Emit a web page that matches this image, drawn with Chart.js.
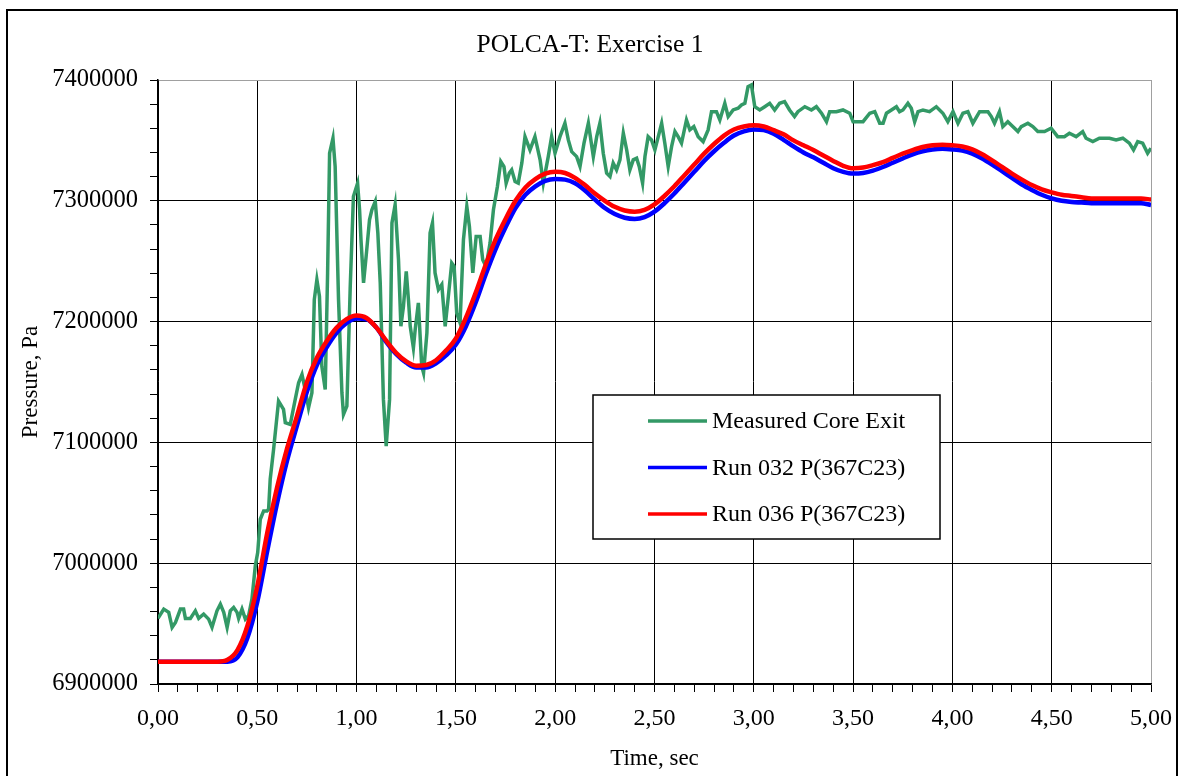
<!DOCTYPE html>
<html>
<head>
<meta charset="utf-8">
<script src="https://cdn.jsdelivr.net/npm/chart.js@4.4.0/dist/chart.umd.min.js"></script>
<style>
html, body { margin: 0; padding: 0; background: #fff; }
#wrap { width: 1180px; height: 776px; position: relative; }
</style>
</head>
<body>
<div id="wrap"><canvas id="polcaChart"></canvas></div>
<script>
// measured core exit pressure (irregular time samples)
const measTime = [
  0.000, 0.029, 0.054, 0.071, 0.088, 0.113, 0.129, 0.138, 0.163, 0.188, 0.205, 0.230, 0.255, 0.272, 0.297, 0.314,
  0.331, 0.348, 0.364, 0.381, 0.398, 0.406, 0.423, 0.440, 0.456, 0.473, 0.490, 0.502, 0.515, 0.532, 0.549, 0.557,
  0.565, 0.582, 0.607, 0.632, 0.641, 0.666, 0.691, 0.708, 0.725, 0.741, 0.758, 0.775, 0.787, 0.800, 0.813, 0.825,
  0.842, 0.854, 0.864, 0.881, 0.892, 0.909, 0.926, 0.934, 0.951, 0.968, 0.984, 1.005, 1.015, 1.022, 1.035, 1.048,
  1.065, 1.077, 1.094, 1.107, 1.119, 1.135, 1.149, 1.166, 1.178, 1.194, 1.211, 1.223, 1.236, 1.250, 1.261, 1.270,
  1.286, 1.295, 1.311, 1.328, 1.337, 1.354, 1.370, 1.382, 1.395, 1.412, 1.429, 1.446, 1.462, 1.479, 1.491, 1.504,
  1.521, 1.538, 1.555, 1.568, 1.585, 1.602, 1.622, 1.635, 1.652, 1.672, 1.689, 1.709, 1.726, 1.742, 1.753, 1.769,
  1.781, 1.798, 1.814, 1.832, 1.848, 1.873, 1.898, 1.924, 1.940, 1.965, 1.982, 1.999, 2.024, 2.049, 2.066, 2.083,
  2.108, 2.125, 2.145, 2.167, 2.192, 2.209, 2.225, 2.242, 2.259, 2.276, 2.292, 2.309, 2.326, 2.343, 2.360, 2.376,
  2.393, 2.410, 2.423, 2.440, 2.452, 2.468, 2.485, 2.502, 2.519, 2.536, 2.552, 2.569, 2.586, 2.603, 2.619, 2.636,
  2.661, 2.678, 2.698, 2.720, 2.745, 2.770, 2.787, 2.812, 2.829, 2.854, 2.871, 2.896, 2.921, 2.938, 2.955, 2.971,
  2.988, 3.005, 3.030, 3.055, 3.080, 3.105, 3.130, 3.155, 3.180, 3.205, 3.222, 3.257, 3.290, 3.315, 3.341, 3.366,
  3.382, 3.416, 3.449, 3.483, 3.500, 3.550, 3.584, 3.609, 3.634, 3.651, 3.668, 3.693, 3.718, 3.734, 3.751, 3.776,
  3.793, 3.810, 3.827, 3.852, 3.885, 3.919, 3.952, 3.977, 4.003, 4.028, 4.053, 4.078, 4.103, 4.137, 4.179, 4.196,
  4.212, 4.237, 4.254, 4.279, 4.296, 4.330, 4.347, 4.380, 4.405, 4.430, 4.464, 4.497, 4.530, 4.564, 4.589, 4.623,
  4.656, 4.673, 4.707, 4.740, 4.791, 4.824, 4.858, 4.891, 4.912, 4.933, 4.958, 4.983, 5.000
];
const measPressure = [
  6954300, 6962000, 6959300, 6946900, 6951000, 6962000, 6962000, 6954300, 6954300, 6960600, 6954300, 6957900, 6953700, 6946900, 6960600, 6966100,
  6959300, 6946900, 6960600, 6963400, 6959300, 6954300, 6962000, 6953700, 6956500, 6970300, 6997800, 7008800, 7036400, 7043300, 7043300, 7044700,
  7069500, 7094200, 7134200, 7127300, 7116300, 7114900, 7135600, 7149400, 7156200, 7143800, 7128700, 7141100, 7218200, 7234700, 7220900, 7163000,
  7143800, 7240300, 7339400, 7351800, 7328400, 7218200, 7141100, 7123200, 7130000, 7229200, 7303600, 7314600, 7292600, 7267800, 7232000, 7254000,
  7284300, 7292600, 7299400, 7273300, 7232000, 7135600, 7097000, 7135600, 7281600, 7296700, 7251200, 7196100, 7212700, 7241600, 7218200, 7196100,
  7178300, 7193400, 7215500, 7163100, 7157600, 7190700, 7273300, 7281600, 7240300, 7226500, 7230600, 7196100, 7220900, 7248500, 7245700, 7207200,
  7199000, 7267800, 7295300, 7278800, 7240300, 7270500, 7270500, 7251200, 7245700, 7265000, 7292600, 7311800, 7332500, 7328400, 7314600, 7322900,
  7325600, 7316000, 7314600, 7331200, 7353100, 7342100, 7353100, 7333900, 7314600, 7336600, 7353100, 7339400, 7353100, 7364200, 7350400, 7340700,
  7336600, 7328400, 7347700, 7364200, 7336600, 7353100, 7364200, 7339400, 7322900, 7320100, 7331200, 7325600, 7333900, 7356000, 7342100, 7325600,
  7333900, 7335300, 7328400, 7314600, 7336600, 7353100, 7350400, 7342100, 7353100, 7364200, 7347700, 7328400, 7344800, 7357300, 7353100, 7347700,
  7366900, 7358700, 7361400, 7353100, 7349000, 7358700, 7373800, 7373800, 7366900, 7380700, 7369700, 7375200, 7376600, 7379300, 7380700, 7394500,
  7395900, 7377900, 7375200, 7377900, 7380700, 7375200, 7380700, 7382100, 7375200, 7369700, 7373800, 7377900, 7375200, 7377900, 7372500, 7365500,
  7373800, 7373800, 7375200, 7372500, 7365500, 7365500, 7372500, 7373800, 7364200, 7364200, 7372500, 7375200, 7377900, 7373800, 7375200, 7380700,
  7376600, 7365500, 7373800, 7375200, 7373800, 7377900, 7372500, 7365500, 7373800, 7364200, 7372500, 7373800, 7364200, 7373800, 7373800, 7369700,
  7364200, 7373800, 7361400, 7365500, 7362800, 7357300, 7361400, 7364200, 7361400, 7357300, 7357300, 7360100, 7353100, 7353100, 7355900, 7353100,
  7357300, 7351800, 7349000, 7351800, 7351800, 7350400, 7351800, 7347700, 7342100, 7349000, 7347700, 7339400, 7343600
];

// calculated runs, every 0.05 s
const simTime = [
  0.00, 0.05, 0.10, 0.15, 0.20, 0.25, 0.30, 0.35, 0.40, 0.45, 0.50, 0.55, 0.60, 0.65, 0.70, 0.75, 0.80, 0.85, 0.90, 0.95,
  1.00, 1.05, 1.10, 1.15, 1.20, 1.25, 1.30, 1.35, 1.40, 1.45, 1.50, 1.55, 1.60, 1.65, 1.70, 1.75, 1.80, 1.85, 1.90, 1.95,
  2.00, 2.05, 2.10, 2.15, 2.20, 2.25, 2.30, 2.35, 2.40, 2.45, 2.50, 2.55, 2.60, 2.65, 2.70, 2.75, 2.80, 2.85, 2.90, 2.95,
  3.00, 3.05, 3.10, 3.15, 3.20, 3.25, 3.30, 3.35, 3.40, 3.45, 3.50, 3.55, 3.60, 3.65, 3.70, 3.75, 3.80, 3.85, 3.90, 3.95,
  4.00, 4.05, 4.10, 4.15, 4.20, 4.25, 4.30, 4.35, 4.40, 4.45, 4.50, 4.55, 4.60, 4.65, 4.70, 4.75, 4.80, 4.85, 4.90, 4.95,
  5.00
];
const run032 = [
  6918500, 6918500, 6918500, 6918500, 6918500, 6918500, 6918500, 6918500, 6922000, 6938000, 6968000, 7010000, 7050000, 7085000, 7114000, 7142000, 7164000, 7179000, 7191000, 7199000,
  7202500, 7202000, 7195000, 7183000, 7173000, 7166000, 7162000, 7162000, 7165500, 7172000, 7181000, 7196000, 7216000, 7239000, 7260000, 7278000, 7294000, 7305000, 7312000, 7316500,
  7318000, 7317500, 7314500, 7308500, 7301000, 7294000, 7289000, 7286000, 7285000, 7286500, 7291000, 7298000, 7306000, 7315000, 7324000, 7333000, 7341000, 7348000, 7354000, 7357500,
  7359000, 7358500, 7355500, 7350500, 7345000, 7340000, 7336000, 7331500, 7327000, 7324000, 7322500, 7323000, 7325000, 7328000, 7331500, 7335000, 7338500, 7341000, 7342500, 7343000,
  7342500, 7341500, 7339000, 7335000, 7330000, 7324500, 7319000, 7313500, 7309000, 7305000, 7302000, 7300000, 7299000, 7298500, 7298000, 7298000, 7298000, 7298000, 7298000, 7298000,
  7296500
];
const run036 = [
  6918500, 6918500, 6918500, 6918500, 6918500, 6918500, 6918500, 6920000, 6928000, 6948000, 6981000, 7025000, 7063000, 7095000, 7122000, 7150000, 7170000, 7184000, 7195000, 7202000,
  7205000, 7203000, 7195000, 7184000, 7174000, 7167000, 7163500, 7164000, 7168000, 7176000, 7186000, 7203000, 7224000, 7247000, 7268000, 7285000, 7300000, 7311000, 7318000, 7322500,
  7324000, 7323000, 7319000, 7313000, 7306000, 7300000, 7295000, 7292000, 7291000, 7292500, 7297000, 7304000, 7312000, 7321000, 7330000, 7339000, 7347000, 7354000, 7359000, 7361500,
  7362500, 7361500, 7358500, 7355000, 7350000, 7346000, 7342000, 7337500, 7333000, 7329000, 7327000, 7327500, 7329500, 7332000, 7335500, 7339000, 7342000, 7344500, 7346000, 7346500,
  7346000, 7345000, 7342500, 7338500, 7333500, 7328000, 7322500, 7317500, 7313000, 7309500, 7307000, 7305000, 7304000, 7303000, 7302000, 7302000, 7302000, 7302000, 7302000, 7302000,
  7301000
];

const seriesNames = ['Measured Core Exit', 'Run 032 P(367C23)', 'Run 036 P(367C23)'];
const seriesColors = ['#339966', '#0000ff', '#ff0000'];

const serif = 'Liberation Serif';

function isHalf(v) {
  return Math.abs(v * 2 - Math.round(v * 2)) < 1e-6;
}

// black frame round the whole picture
const frame = {
  id: 'frame',
  afterDraw(chart) {
    const c = chart.ctx;
    c.save();
    c.strokeStyle = '#000';
    c.lineWidth = 2;
    c.strokeRect(7, 10, 1170, 800);
    c.restore();
  }
};

// boxed legend inside the plot area
const boxLegend = {
  id: 'boxLegend',
  afterDatasetsDraw(chart) {
    const c = chart.ctx;
    c.save();
    c.fillStyle = '#fff';
    c.fillRect(593, 395, 347, 144);
    c.strokeStyle = '#000';
    c.lineWidth = 1.5;
    c.strokeRect(593, 395, 347, 144);
    c.font = '24px "' + serif + '"';
    c.textBaseline = 'middle';
    chart.data.datasets.forEach((ds, i) => {
      const y = 421 + i * 46.5;
      c.strokeStyle = ds.borderColor;
      c.lineWidth = 3.5;
      c.beginPath();
      c.moveTo(648, y);
      c.lineTo(707, y);
      c.stroke();
      c.fillStyle = '#000';
      c.fillText(ds.label, 712, y + 1);
    });
    c.restore();
  }
};

const ctx = document.getElementById('polcaChart');

new Chart(ctx, {
  type: 'line',
  data: {
    datasets: [{
      label: seriesNames[0],
      data: measTime.map((t, i) => ({x: t, y: measPressure[i]})),
      borderColor: seriesColors[0],
      borderWidth: 3.5,
      pointRadius: 0,
      tension: 0,
      order: 3
    }, {
      label: seriesNames[1],
      data: simTime.map((t, i) => ({x: t, y: run032[i]})),
      borderColor: seriesColors[1],
      borderWidth: 4.5,
      pointRadius: 0,
      cubicInterpolationMode: 'monotone',
      order: 2
    }, {
      label: seriesNames[2],
      data: simTime.map((t, i) => ({x: t, y: run036[i]})),
      borderColor: seriesColors[2],
      borderWidth: 4.5,
      pointRadius: 0,
      cubicInterpolationMode: 'monotone',
      order: 1
    }]
  },
  options: {
    responsive: true,
    maintainAspectRatio: false,
    animation: false,
    events: [],
    layout: { padding: 0 },
    plugins: {
      legend: { display: false },
      tooltip: { enabled: false },
      title: {
        display: true,
        text: 'POLCA-T: Exercise 1',
        color: '#000',
        font: { family: serif, size: 25.5, weight: 'normal' },
        padding: { top: 30, bottom: 19.4 }
      }
    },
    scales: {
      x: {
        type: 'linear',
        min: 0,
        max: 5,
        afterFit: (s) => { s.height = 92; s.paddingLeft = 0; s.paddingRight = 29; },
        ticks: {
          stepSize: 0.1,
          maxTicksLimit: 100,
          autoSkip: false,
          maxRotation: 0,
          color: '#000',
          padding: 12,
          font: { family: serif, size: 24 },
          callback: (v) => isHalf(v) ? v.toFixed(2).replace('.', ',') : ''
        },
        grid: {
          color: (c) => !isHalf(c.tick.value) ? 'rgba(0,0,0,0)' : (c.tick.value >= 5 ? '#a0a0a0' : '#000'),
          tickColor: '#000',
          tickLength: 8,
          lineWidth: 1
        },
        border: { color: '#000', width: 1.5 },
        title: {
          display: true,
          text: 'Time, sec',
          color: '#000',
          font: { family: serif, size: 23 },
          padding: { top: 0, bottom: 3 }
        }
      },
      y: {
        min: 6900000,
        max: 7400000,
        afterFit: (s) => { s.width = 158; },
        ticks: {
          stepSize: 20000,
          maxTicksLimit: 100,
          autoSkip: false,
          color: '#000',
          padding: 12,
          font: { family: serif, size: 24.5 },
          callback: (v) => v % 100000 === 0 ? String(v) : ''
        },
        grid: {
          color: (c) => c.tick.value % 100000 !== 0 ? 'rgba(0,0,0,0)' : (c.tick.value >= 7400000 ? '#a0a0a0' : '#000'),
          tickColor: '#000',
          tickLength: 8,
          lineWidth: 1
        },
        border: { color: '#000', width: 1.5 },
        title: {
          display: true,
          text: 'Pressure, Pa',
          color: '#000',
          font: { family: serif, size: 23 },
          padding: { top: 17, bottom: 0 }
        }
      }
    }
  },
  plugins: [boxLegend, frame]
});
</script>
</body>
</html>
